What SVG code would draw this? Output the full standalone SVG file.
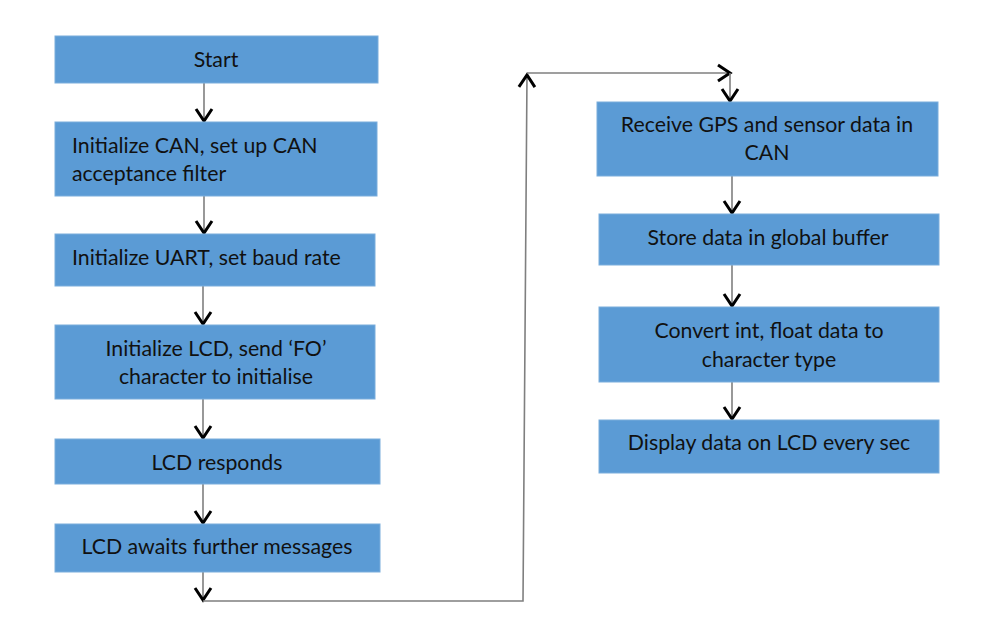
<svg xmlns="http://www.w3.org/2000/svg" width="988" height="644" viewBox="0 0 988 644">
<style>
.box{fill:#5B9BD5;stroke:#7AADDC;stroke-width:1}
.t{font-family:Lato,"Open Sans","Liberation Sans",sans-serif;font-size:21.3px;fill:#111111}
.c{text-anchor:middle}
.ln{fill:none;stroke:#7F7F7F;stroke-width:1.6}
</style>
<defs>
<marker id="ah" markerUnits="userSpaceOnUse" markerWidth="30" markerHeight="30" viewBox="-20 -15 30 30" refX="0" refY="0" orient="auto">
<path d="M-13,-8 L-1,0 L-13,8" fill="none" stroke="#000" stroke-width="3" stroke-linejoin="miter"/>
</marker>
</defs>
<rect width="988" height="644" fill="#fff"/>
<g id="connectors">
<path class="ln" d="M204,83 V122" marker-end="url(#ah)"/>
<path class="ln" d="M204,196 V234" marker-end="url(#ah)"/>
<path class="ln" d="M203,286 V325" marker-end="url(#ah)"/>
<path class="ln" d="M203,399 V439" marker-end="url(#ah)"/>
<path class="ln" d="M203,484 V524" marker-end="url(#ah)"/>
<path class="ln" d="M203,572 V601" marker-end="url(#ah)"/>
<path class="ln" d="M203,601 H523 L527,74" marker-end="url(#ah)"/>
<path class="ln" d="M527,73 H731" marker-end="url(#ah)"/>
<path class="ln" d="M730,73 V102" marker-end="url(#ah)"/>
<path class="ln" d="M732,176 V214" marker-end="url(#ah)"/>
<path class="ln" d="M732,265 V307" marker-end="url(#ah)"/>
<path class="ln" d="M732,382 V420" marker-end="url(#ah)"/>
</g>
<g id="n1"><rect class="box" x="55" y="36" width="323" height="47"/><text class="t c" x="216" y="67">Start</text></g>
<g id="n2"><rect class="box" x="55" y="122" width="322" height="74"/><text class="t" x="72" y="153">Initialize CAN, set up CAN</text><text class="t" x="72" y="181">acceptance filter</text></g>
<g id="n3"><rect class="box" x="55" y="234" width="320" height="52"/><text class="t" x="72" y="265">Initialize UART, set baud rate</text></g>
<g id="n4"><rect class="box" x="55" y="325" width="320" height="74"/><text class="t c" x="216" y="356">Initialize LCD, send ‘FO’</text><text class="t c" x="216" y="384">character to initialise</text></g>
<g id="n5"><rect class="box" x="55" y="439" width="325" height="45"/><text class="t c" x="217" y="470">LCD responds</text></g>
<g id="n6"><rect class="box" x="55" y="524" width="325" height="48"/><text class="t c" x="217" y="554">LCD awaits further messages</text></g>
<g id="n7"><rect class="box" x="597" y="102" width="341" height="74"/><text class="t c" x="767" y="132">Receive GPS and sensor data in</text><text class="t c" x="767" y="160">CAN</text></g>
<g id="n8"><rect class="box" x="599" y="214" width="340" height="51"/><text class="t c" x="768" y="245">Store data in global buffer</text></g>
<g id="n9"><rect class="box" x="599" y="307" width="340" height="75"/><text class="t c" x="769" y="338">Convert int, float data to</text><text class="t c" x="769" y="367">character type</text></g>
<g id="n10"><rect class="box" x="599" y="420" width="340" height="53"/><text class="t c" x="769" y="450">Display data on LCD every sec</text></g>
</svg>
